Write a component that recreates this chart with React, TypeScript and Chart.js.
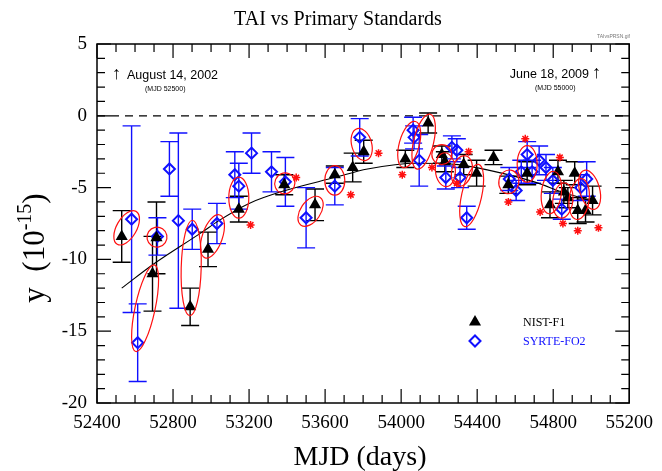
import { useEffect, useRef } from "react";
import { Chart, registerables } from "chart.js";
Chart.register(...registerables);

// ---- data ----
const nistMjd = [52530, 52692, 52713, 52890, 52984, 53146, 53385, 53547, 53651, 53745, 53803, 54022, 54142, 54214, 54230, 54329, 54397, 54486, 54564, 54663, 54783, 54825, 54856, 54877, 54913, 54929, 54970, 55007];
const nistY = [-8.4, -11.0, -8.5, -13.3, -9.3, -6.5, -4.8, -6.2, -4.1, -3.6, -2.5, -3.0, -0.5, -2.7, -3.2, -3.4, -4.0, -2.9, -4.8, -4.0, -6.2, -3.9, -5.3, -5.7, -4.0, -6.6, -6.6, -5.9];
const nistErr = [1.8, 2.6, 2.5, 1.3, 1.2, 0.9, 0.7, 1.1, 0.6, 1.0, 0.8, 0.6, 0.7, 0.6, 0.7, 0.7, 0.9, 0.5, 0.6, 0.8, 0.9, 0.8, 0.8, 0.7, 0.8, 0.9, 0.8, 1.0];

const syrteMjd = [52582, 52614, 52718, 52781, 52828, 52901, 53031, 53125, 53146, 53213, 53318, 53391, 53500, 53651, 53782, 54063, 54068, 54095, 54235, 54267, 54293, 54310, 54345, 54569, 54605, 54632, 54663, 54689, 54726, 54762, 54798, 54845, 54944, 54976];
const syrteY = [-7.2, -15.8, -8.4, -3.7, -7.3, -7.9, -7.5, -4.1, -4.9, -2.6, -3.9, -4.6, -7.1, -4.9, -1.5, -1.0, -1.5, -3.1, -4.3, -2.2, -2.4, -4.3, -7.1, -4.4, -5.2, -3.9, -2.7, -3.9, -3.1, -3.6, -4.5, -6.5, -5.0, -4.4];
const syrteErr = [6.5, 2.7, 1.3, 1.9, 6.1, 1.4, 1.4, 1.6, 1.6, 1.4, 1.4, 1.7, 2.1, 1.3, 1.3, 0.9, 0.8, 1.8, 0.8, 0.8, 0.8, 0.7, 0.8, 0.8, 0.7, 0.8, 0.9, 0.8, 1.0, 0.9, 0.9, 0.7, 0.9, 1.2];

const starMjd = [53208, 53448, 53735, 53881, 54006, 54162, 54293, 54355, 54564, 54653, 54731, 54835, 54851, 54929, 55038];
const starY = [-7.6, -4.3, -5.5, -2.6, -4.1, -3.6, -4.7, -2.5, -6.0, -1.6, -6.7, -2.9, -7.5, -8.0, -7.8];

const fitMjd = [52530, 52700, 52953, 53041, 53200, 53391, 53650, 53823, 54084, 54300, 54465, 54700, 54866, 55023];
const fitY = [-12.0, -10.3, -8.1, -7.3, -6.1, -5.2, -4.3, -3.7, -3.3, -3.4, -3.8, -4.6, -5.4, -6.0];

// pairs of [NIST index, SYRTE index] circled in red (-1 = none)
const ellipsePairs = [[0, 0], [1, 1], [2, 2], [3, 5], [4, 6], [5, 8], [6, 11], [7, 12], [8, 13], [10, 14], [11, 15], [12, 17], [13, -1], [14, 18], [15, 21], [16, 22], [18, 23], [19, 26], [20, 30], [22, 31], [25, 32], [27, 33]];

const titleText = "TAI vs Primary Standards";
const xTitle = "MJD (days)";
const seriesNames = ["NIST-F1", "SYRTE-FO2"];

const SERIF = '"Liberation Serif", "Times New Roman", serif';
const SANS = '"Liberation Sans", Arial, sans-serif';
const BLUE = "#1010ff";

export default function App() {
  const ref = useRef<HTMLCanvasElement>(null);
  useEffect(() => {
    const canvas = ref.current!;
    const xy = (xs: number[], ys: number[]) => xs.map((x, i) => ({ x, y: ys[i] }));

    const decor = {
      id: "decor",
      beforeDatasetsDraw(chart: any) {
        const { ctx, chartArea: a, scales } = chart;
        const x = scales.x, y = scales.y;
        ctx.save();
        // dashed zero line
        ctx.strokeStyle = "#000";
        ctx.lineWidth = 1.2;
        ctx.setLineDash([8, 6]);
        const y0 = y.getPixelForValue(0);
        ctx.beginPath();
        ctx.moveTo(a.left, y0);
        ctx.lineTo(a.right, y0);
        ctx.stroke();
        ctx.setLineDash([]);
        const bars = (xs: number[], ys: number[], es: number[], color: string) => {
          ctx.strokeStyle = color;
          ctx.lineWidth = 1.4;
          xs.forEach((mx, i) => {
            const px = x.getPixelForValue(mx);
            const t = y.getPixelForValue(ys[i] + es[i]);
            const b = y.getPixelForValue(ys[i] - es[i]);
            ctx.beginPath();
            ctx.moveTo(px, t); ctx.lineTo(px, b);
            ctx.moveTo(px - 9, t); ctx.lineTo(px + 9, t);
            ctx.moveTo(px - 9, b); ctx.lineTo(px + 9, b);
            ctx.stroke();
          });
        };
        bars(nistMjd, nistY, nistErr, "#000");
        bars(syrteMjd, syrteY, syrteErr, BLUE);
        ctx.restore();
      },
      afterDatasetsDraw(chart: any) {
        const { ctx, scales } = chart;
        const x = scales.x, y = scales.y;
        ctx.save();
        ctx.strokeStyle = "#ff1010";
        ctx.lineWidth = 1.2;
        ellipsePairs.forEach(([n, s]) => {
          const p1 = { x: x.getPixelForValue(nistMjd[n]), y: y.getPixelForValue(nistY[n]) };
          const p2 = s >= 0 ? { x: x.getPixelForValue(syrteMjd[s]), y: y.getPixelForValue(syrteY[s]) } : p1;
          const cx = (p1.x + p2.x) / 2, cy = (p1.y + p2.y) / 2;
          const d = Math.hypot(p2.x - p1.x, p2.y - p1.y);
          const ang = d > 0 ? Math.atan2(p2.y - p1.y, p2.x - p1.x) : 0;
          const ry = 10;
          const rx = Math.max(d / 2 + 9, ry);
          ctx.beginPath();
          ctx.ellipse(cx, cy, rx, ry, ang, 0, Math.PI * 2);
          ctx.stroke();
        });
        ctx.restore();
      },
      afterDraw(chart: any) {
        const { ctx, chartArea: a, scales } = chart;
        const x = scales.x, y = scales.y;
        ctx.save();
        // frame
        ctx.strokeStyle = "#000";
        ctx.lineWidth = 1.5;
        ctx.strokeRect(a.left, a.top, a.right - a.left, a.bottom - a.top);
        ctx.lineWidth = 1.2;
        ctx.beginPath();
        for (let m = 52400; m <= 55200; m += 100) {
          const px = x.getPixelForValue(m);
          const len = m % 400 === 0 ? 14 : 8;
          ctx.moveTo(px, a.bottom); ctx.lineTo(px, a.bottom - len);
          ctx.moveTo(px, a.top); ctx.lineTo(px, a.top + len);
        }
        for (let v = -20; v <= 5; v += 1) {
          const py = y.getPixelForValue(v);
          const len = v % 5 === 0 ? 14 : 8;
          ctx.moveTo(a.left, py); ctx.lineTo(a.left + len, py);
          ctx.moveTo(a.right, py); ctx.lineTo(a.right - len, py);
        }
        ctx.stroke();

        ctx.fillStyle = "#000";
        ctx.textBaseline = "middle";
        ctx.textAlign = "center";
        // title
        ctx.font = `20px ${SERIF}`;
        ctx.fillText(titleText, 338, 20);
        // x title
        ctx.font = `28px ${SERIF}`;
        ctx.fillText(xTitle, 360, 458);
        // y title with superscript
        ctx.save();
        ctx.translate(34, 248);
        ctx.rotate(-Math.PI / 2);
        const main1 = "y  (10";
        const sup = "-15";
        const main2 = ")";
        ctx.font = `31px ${SERIF}`;
        const w1 = ctx.measureText(main1).width;
        const w3 = ctx.measureText(main2).width;
        ctx.font = `20px ${SERIF}`;
        const w2 = ctx.measureText(sup).width;
        let sx = -(w1 + w2 + w3) / 2;
        ctx.textAlign = "left";
        ctx.textBaseline = "alphabetic";
        ctx.font = `31px ${SERIF}`;
        ctx.fillText(main1, sx, 10);
        sx += w1;
        ctx.font = `20px ${SERIF}`;
        ctx.fillText(sup, sx, -3);
        sx += w2;
        ctx.font = `31px ${SERIF}`;
        ctx.fillText(main2, sx, 10);
        ctx.restore();

        // annotations
        ctx.textBaseline = "middle";
        ctx.textAlign = "left";
        ctx.font = `18px ${SANS}`;
        ctx.fillText("\u2191", 112, 74);
        ctx.font = `12.5px ${SANS}`;
        ctx.fillText("August 14, 2002", 127, 76);
        ctx.font = `7px ${SANS}`;
        ctx.fillText("(MJD 52500)", 145, 89);
        ctx.textAlign = "right";
        ctx.font = `12.5px ${SANS}`;
        ctx.fillText("June 18, 2009", 589, 75);
        ctx.textAlign = "left";
        ctx.font = `18px ${SANS}`;
        ctx.fillText("\u2191", 592, 73);
        ctx.font = `7px ${SANS}`;
        ctx.fillText("(MJD 55000)", 535, 88);
        ctx.fillStyle = "#777";
        ctx.font = `5px ${SANS}`;
        ctx.fillText("TAIvsPRSN.gif", 597, 37);

        // legend
        ctx.fillStyle = "#000";
        ctx.beginPath();
        const r = 7;
        ctx.moveTo(475, 322 - r);
        ctx.lineTo(475 + r * 0.866, 322 + r / 2);
        ctx.lineTo(475 - r * 0.866, 322 + r / 2);
        ctx.closePath();
        ctx.fill();
        ctx.strokeStyle = BLUE;
        ctx.lineWidth = 2;
        ctx.beginPath();
        const d = 5.5;
        ctx.moveTo(475 - d, 341); ctx.lineTo(475, 341 - d); ctx.lineTo(475 + d, 341); ctx.lineTo(475, 341 + d);
        ctx.closePath();
        ctx.stroke();
        ctx.font = `12px ${SERIF}`;
        ctx.fillStyle = "#000";
        ctx.fillText(seriesNames[0], 523, 323);
        ctx.fillStyle = BLUE;
        ctx.fillText(seriesNames[1], 523, 342);
        ctx.restore();
      },
    };

    const chart = new Chart(canvas, {
      type: "scatter",
      data: {
        datasets: [
          {
            label: "stars",
            data: xy(starMjd, starY),
            pointStyle: "star",
            pointRadius: 4,
            borderColor: "#ff1010",
            backgroundColor: "#ff1010",
            borderWidth: 1.5,
            showLine: false,
          },
          {
            label: seriesNames[0],
            data: xy(nistMjd, nistY),
            pointStyle: "triangle",
            pointRadius: 7,
            backgroundColor: "#000",
            borderColor: "#000",
            borderWidth: 0,
            showLine: false,
          },
          {
            label: seriesNames[1],
            data: xy(syrteMjd, syrteY),
            pointStyle: "rectRot",
            pointRadius: 5.5,
            backgroundColor: "rgba(255,255,255,0)",
            borderColor: BLUE,
            borderWidth: 2,
            showLine: false,
          },
          {
            label: "fit",
            data: xy(fitMjd, fitY),
            showLine: true,
            borderColor: "#000",
            borderWidth: 1.1,
            pointRadius: 0,
            tension: 0.4,
            cubicInterpolationMode: "monotone",
          } as any,
        ],
      },
      options: {
        responsive: false,
        animation: false,
        layout: { padding: { top: 44, right: 28, left: 0, bottom: 0 } },
        plugins: { legend: { display: false }, title: { display: false }, tooltip: { enabled: false } },
        scales: {
          x: {
            type: "linear",
            min: 52400,
            max: 55200,
            grid: { display: false, drawTicks: false },
            border: { display: false },
            ticks: {
              stepSize: 400,
              autoSkip: false,
              maxRotation: 0,
              padding: 9,
              color: "#000",
              font: { family: SERIF, size: 19 },
              callback: (v: any) => String(v),
            },
            afterFit: (s: any) => { s.height = 68; },
          },
          y: {
            type: "linear",
            min: -20,
            max: 5,
            grid: { display: false, drawTicks: false },
            border: { display: false },
            ticks: {
              stepSize: 5,
              padding: 10,
              color: "#000",
              font: { family: SERIF, size: 19 },
              callback: (v: any) => String(v),
            },
            afterFit: (s: any) => { s.width = 97; },
          },
        },
      },
      plugins: [decor],
    });
    return () => chart.destroy();
  }, []);

  return (
    <div style={{ position: "absolute", left: 0, top: 0, width: 662, height: 471, background: "#fff" }}>
      <canvas ref={ref} width={662} height={471} />
    </div>
  );
}
